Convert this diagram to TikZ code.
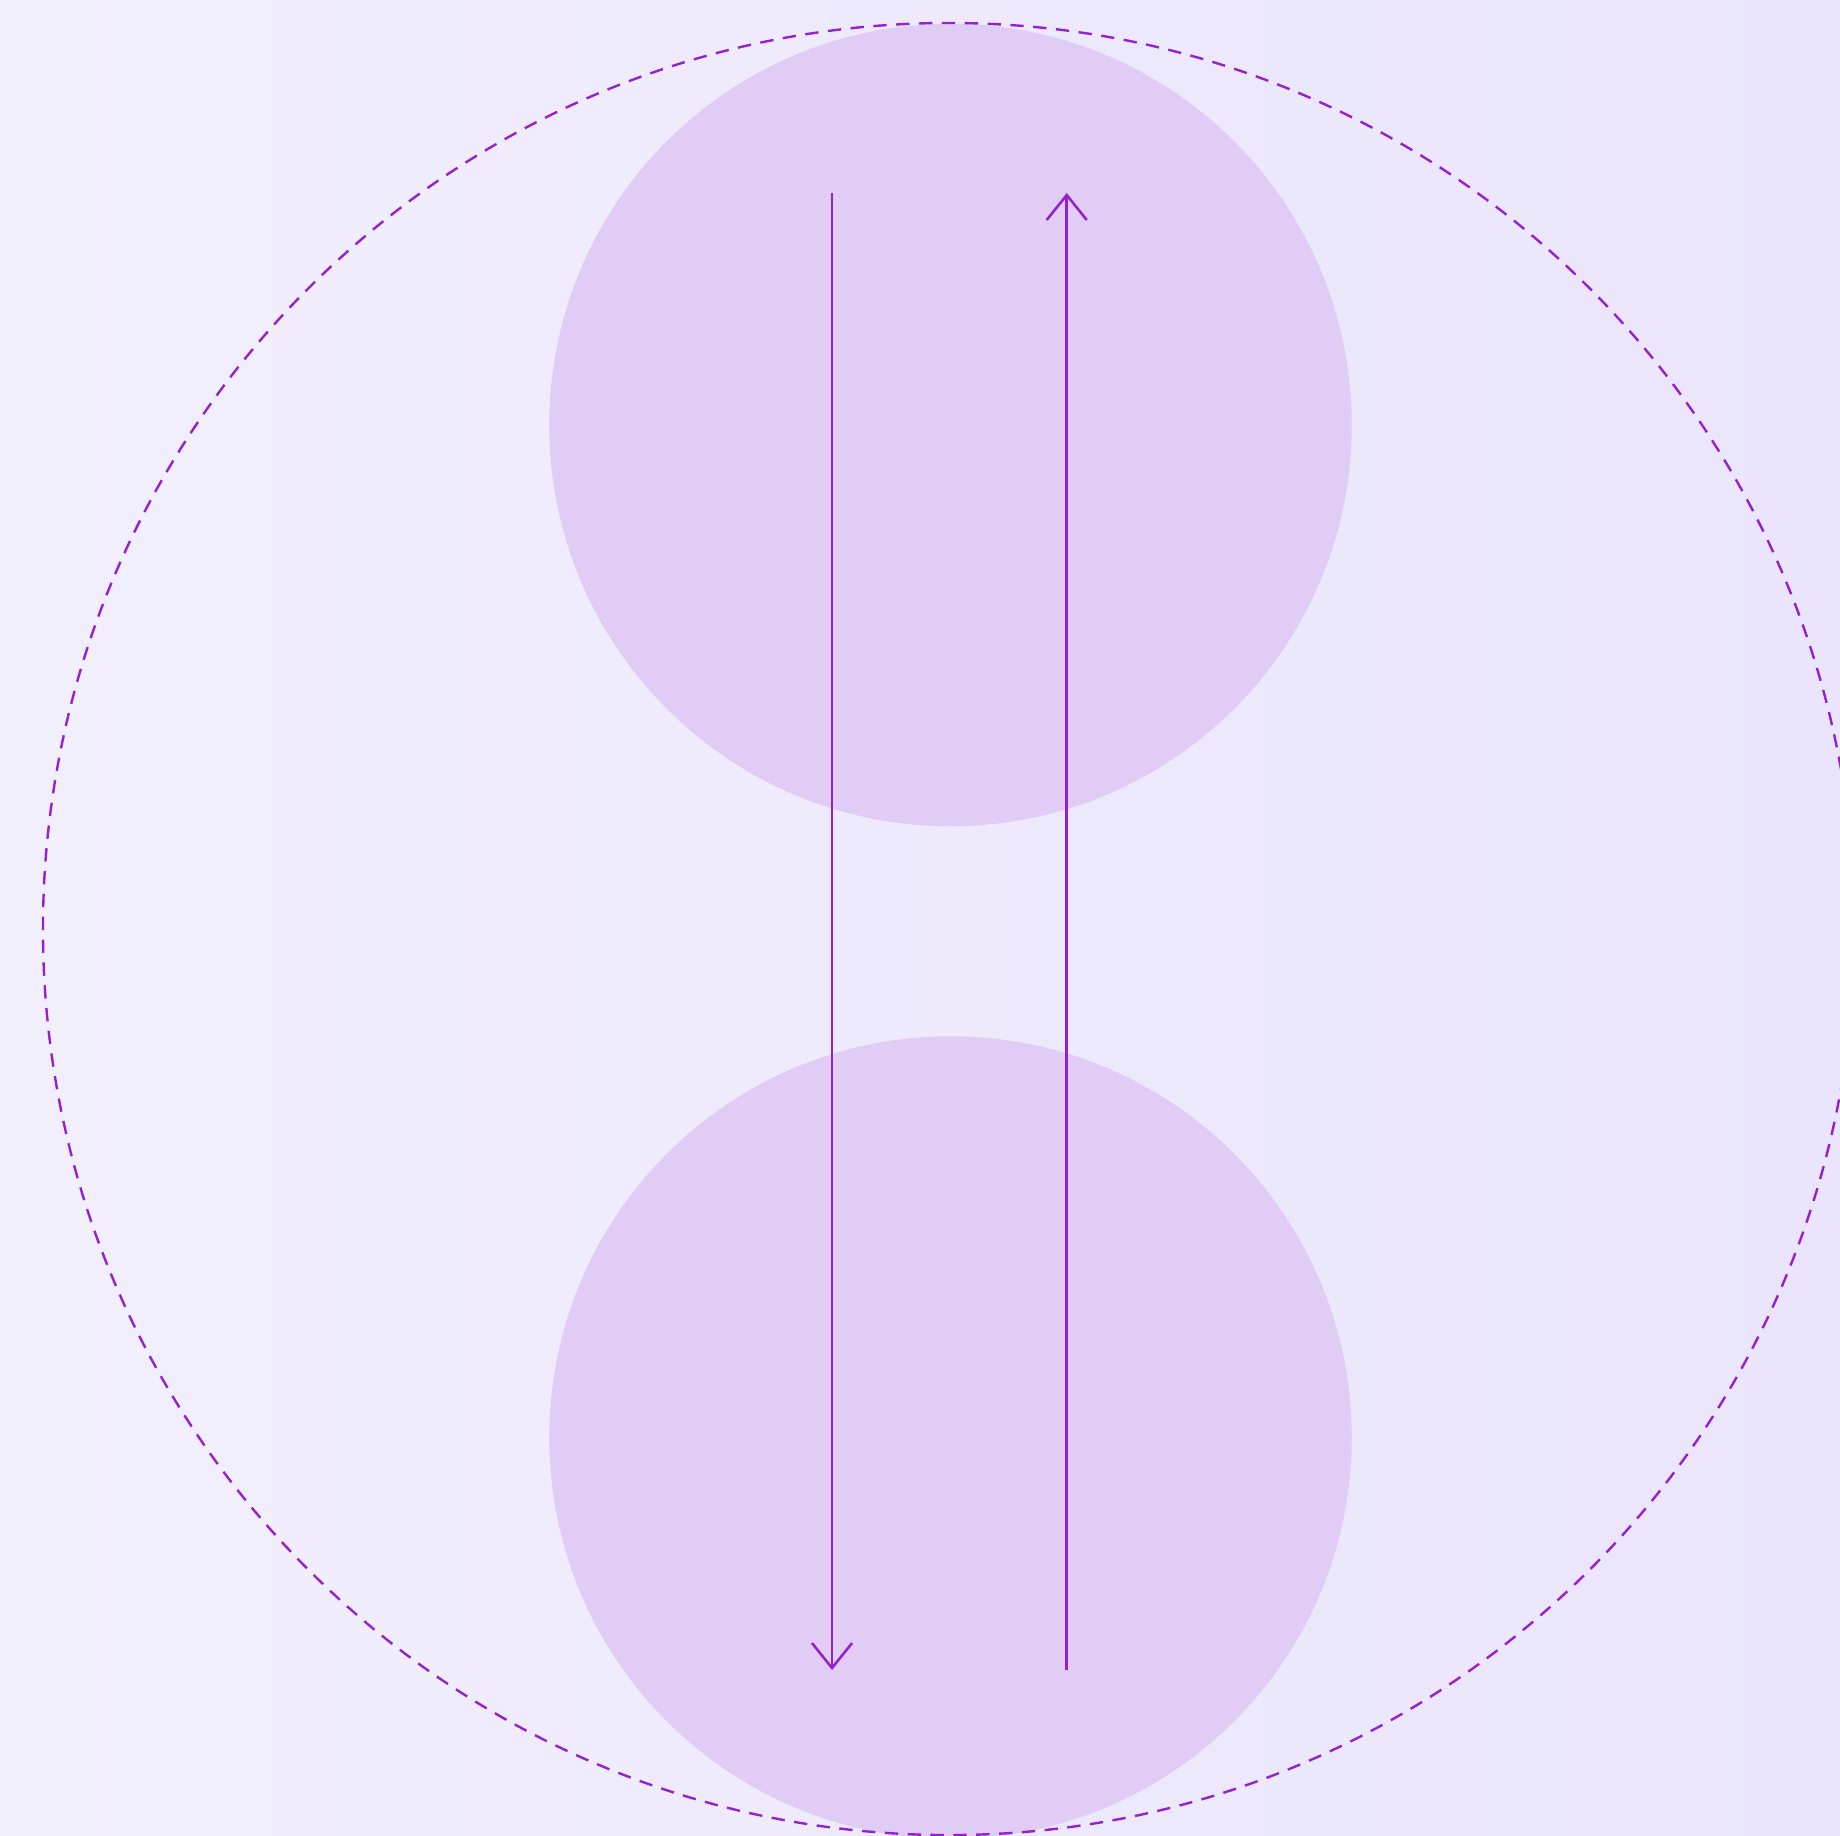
\documentclass[tikz,border=0pt]{standalone}
\usetikzlibrary{arrows.meta}

\definecolor{bgleft}{HTML}{F2EFFD}
\definecolor{bgright}{HTML}{EAE5FC}
\definecolor{lobefill}{HTML}{E0CCF4}
\definecolor{violetline}{HTML}{9420CF}

\tikzset{
  lobe/.style={circle, fill=lobefill, draw=none, minimum size=8.02cm, inner sep=0pt, outer sep=0pt},
  ring/.style={violetline, line width=0.68pt, dash pattern=on 3.8pt off 2.7pt},
  flow/.style={violetline, line width=0.72pt, -{Straight Barb[length=7.1pt,width=11.4pt]}},
}

\begin{document}
\begin{tikzpicture}[x=0.01cm, y=-0.01cm]
    % --- parameters ---
    \def\W{1840}      % width
    \def\H{1835}      % height
    \def\cx{950.5}    % common x of the circles

    % --- frame and background ---
    \useasboundingbox (0,0) rectangle (\W,\H);
    \clip (0,0) rectangle (\W,\H);
    \shade[left color=bgleft, right color=bgright] (0,0) rectangle (\W,\H);

    % --- the two filled circles ---
    \node[lobe] (upper) at (\cx,425) {};
    \node[lobe] (lower) at (\cx,1437.5) {};

    % --- dashed outer ring ---
    \draw[ring] (949,929) circle[radius=9.055cm];

    % --- arrow end points ---
    \coordinate (downstart) at (832,193);
    \coordinate (downend) at (832,1670);
    \coordinate (upstart) at (1066.7,1670);
    \coordinate (upend) at (1066.7,193);

    % --- arrows ---
    \draw[flow] (downstart) -- (downend);
    \draw[flow] (upstart) -- (upend);
\end{tikzpicture}
\end{document}
